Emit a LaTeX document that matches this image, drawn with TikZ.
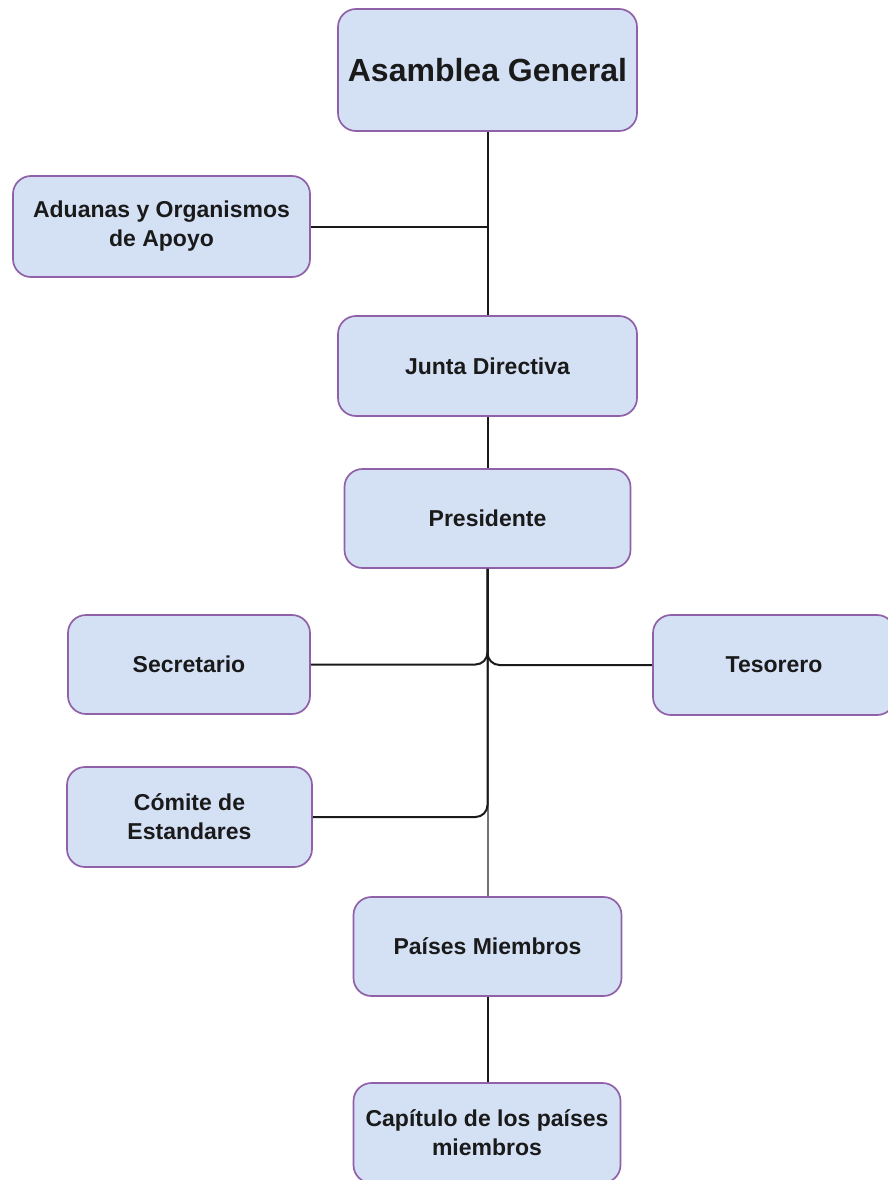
\documentclass[tikz,border=0pt]{standalone}
\usepackage{fontspec}
\setmainfont{Liberation Sans}
\definecolor{boxfill}{HTML}{D4E1F5}
\definecolor{boxdraw}{HTML}{9061A8}
\definecolor{linecol}{HTML}{1A1A1A}
\begin{document}
\begin{tikzpicture}[x=1pt,y=-1pt,
  box/.style={draw=boxdraw, fill=boxfill, line width=1.7pt, rounded corners=18pt,
    align=center, inner sep=0pt, text=linecol,
    font=\bfseries\fontsize{23}{29}\selectfont},
  bigbox/.style={box, font=\bfseries\fontsize{32}{36}\selectfont},
  conn/.style={draw=linecol, line width=2pt, rounded corners=12pt},
  conngray/.style={draw=black!55, line width=2pt}]
\useasboundingbox (0,0) rectangle (887,1180);

\node[bigbox, minimum width=299pt, minimum height=122pt] (asam) at (487.5,70) {Asamblea General};
\node[box, minimum width=297pt, minimum height=101pt] (adu) at (161.5,226.5) {Aduanas y Organismos\\de Apoyo};
\node[box, minimum width=299pt, minimum height=100pt] (junta) at (487.5,366) {Junta Directiva};
\node[box, minimum width=286pt, minimum height=99pt] (pres) at (487.5,518.5) {Presidente};
\node[box, minimum width=242pt, minimum height=99pt] (sec) at (189,664.5) {Secretario};
\node[box, minimum width=242pt, minimum height=100pt] (tes) at (774,665) {Tesorero};
\node[box, minimum width=245pt, minimum height=100pt] (com) at (189.5,817) {Cómite de\\Estandares};
\node[box, minimum width=268pt, minimum height=99pt] (pai) at (487.5,946.5) {Países Miembros};
\node[box, minimum width=267pt, minimum height=100pt] (cap) at (487,1133) {Capítulo de los países\\miembros};

\draw[conngray] (pres.south) -- (pai.north);
\draw[conn] (pres.south) |- (sec.east);
\draw[conn] (pres.south) |- (tes.west);
\draw[conn] (pres.south) |- (com.east);
\draw[conn] (asam.south) -- (junta.north);
\draw[conn] (adu.east) -- (adu.east -| asam.south);
\draw[conn] (junta.south) -- (pres.north);
\draw[conn] (pai.south) -- (pai.south |- cap.north);
\end{tikzpicture}
\end{document}
